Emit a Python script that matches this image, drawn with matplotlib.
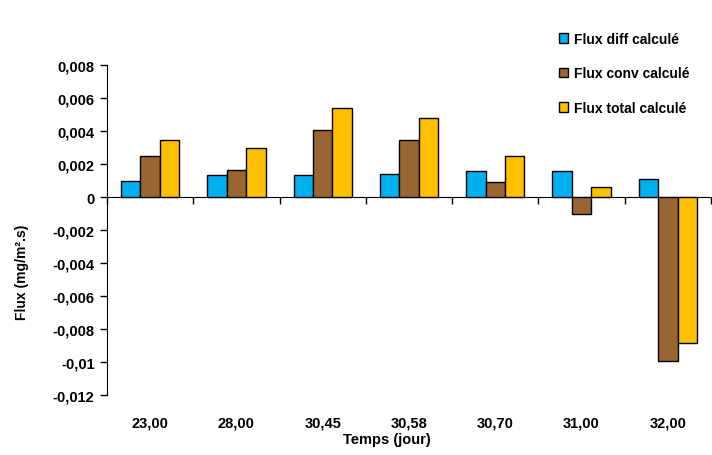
import numpy as np
import matplotlib
matplotlib.use("Agg")
import matplotlib.pyplot as plt
from matplotlib.transforms import blended_transform_factory

categories = ["23,00", "28,00", "30,45", "30,58", "30,70", "31,00", "32,00"]
flux_diff = [0.0010, 0.00135, 0.00133, 0.00139, 0.00158, 0.00158, 0.00109]
flux_conv = [0.00246, 0.00165, 0.00408, 0.00343, 0.00093, -0.00101, -0.00995]
flux_total = [0.00345, 0.0030, 0.0054, 0.0048, 0.00248, 0.0006, -0.00887]
series = ["Flux diff calculé", "Flux conv calculé", "Flux total calculé"]
colors = ["#00B0F0", "#996633", "#FFC000"]

plt.rcParams["font.family"] = ["Liberation Sans Narrow", "Liberation Sans", "DejaVu Sans"]
plt.rcParams["font.weight"] = "bold"

fig = plt.figure(figsize=(7.12, 4.56), dpi=100)
ax = fig.add_axes([107 / 712, 1 - 396 / 456, 604 / 712, 330 / 456])

x = np.arange(len(categories))
w = 0.225
for i, (vals, name, c) in enumerate(zip([flux_diff, flux_conv, flux_total], series, colors)):
    ax.bar(x + (i - 1) * w, vals, w, color=c, edgecolor="black", linewidth=1.0, label=name, zorder=3)

ax.set_xlim(-0.5, len(categories) - 0.5)
ax.set_ylim(-0.012, 0.008)
yt = np.arange(-0.012, 0.0081, 0.002)
ax.set_yticks(yt)
ax.set_yticklabels([("%g" % round(v, 4)).replace(".", ",") for v in yt], fontsize=10.5, fontweight="bold")

ax.spines["top"].set_visible(False)
ax.spines["right"].set_visible(False)
ax.spines["bottom"].set_position(("data", 0))
ax.set_xticks(np.arange(-0.5, len(categories), 1.0))
ax.set_xticklabels([])
ax.tick_params(axis="both", direction="out", length=5, width=1)
ax.tick_params(axis="y", pad=4)

trans = blended_transform_factory(ax.transData, fig.transFigure)
for xi, lab in zip(x, categories):
    ax.text(xi, 1 - 423 / 456, lab, transform=trans, ha="center", va="center",
            fontsize=10.5, fontweight="bold")
fig.text(387 / 712, 1 - 440 / 456, "Temps (jour)", ha="center", va="center",
         fontsize=10.5, fontweight="bold")
fig.text(22 / 712, 1 - 272 / 456, "Flux (mg/m².s)", rotation=90, ha="center", va="center",
         fontsize=10, fontweight="bold")

fig.legend(loc="upper left", bbox_to_anchor=(546 / 712, 1 - 20 / 456), frameon=False,
           prop={"size": 10, "weight": "bold"}, handlelength=0.7, handleheight=0.7,
           handletextpad=0.4, labelspacing=1.5)

fig.savefig("out.png", dpi=100)
